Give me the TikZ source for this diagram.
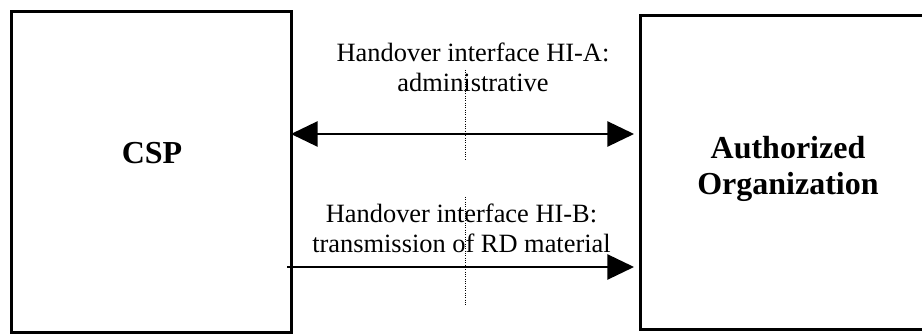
\documentclass[tikz,border=0pt]{standalone}
\usepackage{fontspec}
\setmainfont{Liberation Serif}
\usetikzlibrary{arrows.meta}
\begin{document}
\begin{tikzpicture}[x=0.75pt, y=0.75pt,
    box/.style={draw, line width=2.25pt, inner sep=0pt, outer sep=0pt},
    boxlabel/.style={align=center, font=\fontsize{24}{27}\selectfont\bfseries},
    hilabel/.style={align=center, font=\fontsize{19.8}{22.5}\selectfont},
    iface/.style={line width=1.1pt, -{Triangle[length=20pt, width=19pt]}}]
    \useasboundingbox (0,0) rectangle (922,335);

    % Draw nodes
    \node[box, minimum width=210pt, minimum height=240.75pt] (csp) at (151, 162.5) {};
    \node[box, minimum width=222pt, minimum height=235.5pt] (ao) at (788, 162) {};
    \node[boxlabel] (csplabel) at (152, 182) {CSP};
    \node[boxlabel] (aolabel) at (788, 166) {Authorized\\Organization};
    \node[hilabel] (hia) at (473, 268) {Handover interface HI-A:\\administrative};
    \node[hilabel] (hib) at (461.5, 107) {Handover interface HI-B:\\transmission of RD material};

    % Arrow end points
    \coordinate (aL) at (291, 201);
    \coordinate (aR) at (634, 201);
    \coordinate (bL) at (287, 68);
    \coordinate (bR) at (634, 68);
    \coordinate (d1) at (465, 265);
    \coordinate (d2) at (465, 175);
    \coordinate (d3) at (465, 138);
    \coordinate (d4) at (465, 30);

    % Draw handover interfaces
    \draw[iface, {Triangle[length=20pt, width=19pt]}-{Triangle[length=20pt, width=19pt]}] (aL) -- (aR); % HI-A, both ways
    \draw[iface] (bL) -- (bR); % HI-B, CSP to organization

    % Draw dotted border
    \draw[line width=0.75pt, dash pattern=on 0.75pt off 1pt] (d1) -- (d2);
    \draw[line width=0.75pt, dash pattern=on 0.75pt off 1pt] (d3) -- (d4);
\end{tikzpicture}
\end{document}
